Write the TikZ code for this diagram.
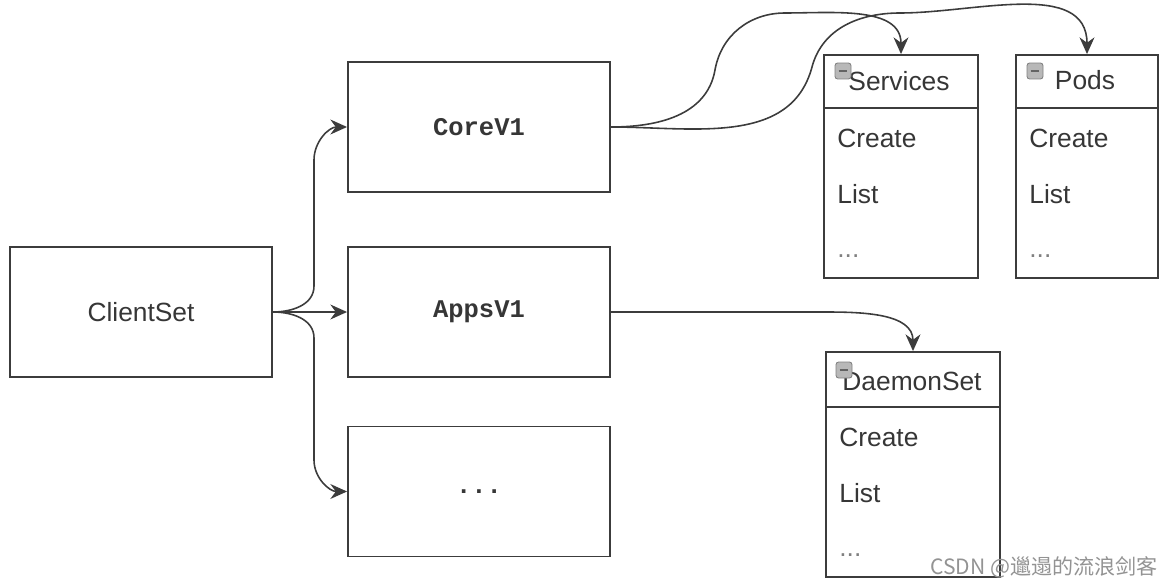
\documentclass[tikz,border=0pt]{standalone}
\usepackage{fontspec}
\setmainfont{Liberation Sans}
\setmonofont{Liberation Mono}
\newfontfamily\cjkfont{Noto Sans CJK SC}
\usetikzlibrary{arrows.meta}
\definecolor{boxline}{HTML}{3C3C3C}
\definecolor{boxtext}{HTML}{363636}
\definecolor{icongray}{HTML}{B8B8B8}
\tikzset{
  box/.style={draw=boxline, line width=1.1pt, minimum width=5.24cm, minimum height=2.6cm, text=boxtext, font=\fontsize{15}{18}\selectfont},
  apibox/.style={box, font=\ttfamily\bfseries\fontsize{14.5}{17}\selectfont},
  classbox/.style={draw=boxline, line width=1.1pt},
  classtitle/.style={text=boxtext, font=\fontsize{15}{18}\selectfont, inner sep=0pt},
  classitem/.style={classtitle, anchor=west},
  classicon/.style={draw=gray, fill=icongray, rounded corners=1.5pt, minimum size=0.32cm, inner sep=0pt, line width=0.5pt},
  icondash/.style={draw=boxline!80, line width=1pt},
  link/.style={draw=boxline, line width=0.9pt, -{Stealth[length=9.5pt,width=8.5pt]}},
}
\begin{document}
\begin{tikzpicture}[x=0.02cm, y=0.02cm]
\useasboundingbox (0,0) rectangle (1164,586);
% client set and its groups
\node[box] (clientset) at (141,274) {ClientSet};
\node[apibox] (corev1) at (479,459) {CoreV1};
\node[apibox] (appsv1) at (479,274) {AppsV1};
\node[apibox] (moreapi) at (479,94.5) {...};

% resource boxes
\node[classbox, minimum width=3.08cm, minimum height=4.46cm] (services) at (901,419.5) {};
\draw[classbox] (services.west |- 0,478) -- (services.east |- 0,478);
\node[classtitle] (svctitle) at (899,505) {Services};
\node[classitem] (svccreate) at (837,448) {Create};
\node[classitem] (svclist) at (837,392) {List};
\node[classitem, text=gray] (svcmore) at (837,330) {...};
\node[classicon] (svcicon) at (843,515) {};
\draw[icondash] ([xshift=-2.5pt]svcicon.center) -- ([xshift=2.5pt]svcicon.center);

\node[classbox, minimum width=2.84cm, minimum height=4.46cm] (pods) at (1087,419.5) {};
\draw[classbox] (pods.west |- 0,478) -- (pods.east |- 0,478);
\node[classtitle] (podtitle) at (1085,506) {Pods};
\node[classitem] (podcreate) at (1029,448) {Create};
\node[classitem] (podlist) at (1029,392) {List};
\node[classitem, text=gray] (podmore) at (1029,330) {...};
\node[classicon] (podicon) at (1035,515) {};
\draw[icondash] ([xshift=-2.5pt]podicon.center) -- ([xshift=2.5pt]podicon.center);

\node[classbox, minimum width=3.48cm, minimum height=4.5cm] (daemonset) at (913,121.5) {};
\draw[classbox] (daemonset.west |- 0,179) -- (daemonset.east |- 0,179);
\node[classtitle] (dstitle) at (912,205) {DaemonSet};
\node[classitem] (dscreate) at (839,149) {Create};
\node[classitem] (dslist) at (839,93) {List};
\node[classitem, text=gray] (dsmore) at (839,31) {...};
\node[classicon] (dsicon) at (844,216) {};
\draw[icondash] ([xshift=-2.5pt]dsicon.center) -- ([xshift=2.5pt]dsicon.center);

% bends
\coordinate (upbend) at (314,300);
\coordinate (uptop) at (314,426);
\coordinate (downbend) at (314,248);
\coordinate (downfoot) at (314,126);
\coordinate (svcrise) at (715,516);
\coordinate (svcpeak) at (785,573);
\coordinate (podrise) at (812,519);
\coordinate (podpeak) at (900,573);

% connectors
\draw[link] (clientset.east) -- (appsv1.west);
\draw[link] (clientset.east) to[out=0,in=-90] (upbend) -- (uptop) to[out=90,in=180] (corev1.west);
\draw[link] (clientset.east) to[out=0,in=90] (downbend) -- (downfoot) to[out=-90,in=180] (moreapi.west);
\draw[link] (corev1.east) to[out=0,in=-100] (svcrise) to[out=80,in=180] (svcpeak) to[out=0,in=90] (services.north);
\draw[link] (corev1.east) to[out=0,in=-105] (podrise) to[out=75,in=180] (podpeak) to[out=0,in=90] (pods.north);
\draw[link] (appsv1.east) -- (appsv1.east -| daemonset.west) to[out=0,in=90] (daemonset.north);

\node[text=gray!85, font=\cjkfont\fontsize{12}{14}\selectfont] (watermark) at (1044,19) {CSDN @邋遢的流浪剑客};
\end{tikzpicture}
\end{document}
